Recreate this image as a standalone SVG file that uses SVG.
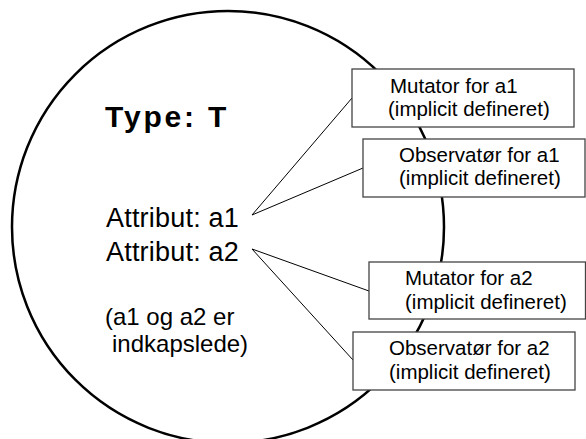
<svg xmlns="http://www.w3.org/2000/svg" width="586" height="439" viewBox="0 0 586 439">
  <style>
    .type { font-family: "Liberation Sans", Arial, sans-serif; font-weight: bold; font-size: 30px; letter-spacing: 2.8px; fill: #000; }
    .attr { font-family: "Liberation Sans", Arial, sans-serif; font-size: 27px; letter-spacing: 0.2px; fill: #000; }
    .note { font-family: "Liberation Sans", Arial, sans-serif; font-size: 24px; letter-spacing: 0; fill: #000; }
    .box rect { fill: #fff; stroke: #444; stroke-width: 1.3; }
    .box text { font-family: "Liberation Sans", Arial, sans-serif; font-size: 20.5px; letter-spacing: 0; fill: #000; }
    .link { stroke: #000; stroke-width: 1; fill: none; }
  </style>

  <!-- the type T, drawn as a large circle -->
  <g id="type-T">
    <circle cx="228" cy="227" r="216" fill="none" stroke="#000" stroke-width="2.5"/>
    <text class="type" x="105" y="127">Type: T</text>
    <text class="attr" x="106" y="227">Attribut: a1</text>
    <text class="attr" x="106" y="261">Attribut: a2</text>
    <text class="note" x="105" y="325">(a1 og a2 er</text>
    <text class="note" x="112" y="352">indkapslede)</text>
  </g>

  <!-- lines from each attribute to its operations -->
  <g id="connectors">
    <polyline class="link" points="352,98 252,215 363,168"/>
    <polyline class="link" points="369,291 252,249 353,360"/>
  </g>

  <g id="mutator-a1" class="box">
    <rect x="352" y="69" width="222" height="58"/>
    <text x="390" y="92.5">Mutator for a1</text>
    <text x="388" y="115.5">(implicit defineret)</text>
  </g>

  <g id="observator-a1" class="box">
    <rect x="363" y="139" width="222" height="58"/>
    <text x="399" y="161.5">Observatør for a1</text>
    <text x="399" y="185">(implicit defineret)</text>
  </g>

  <g id="mutator-a2" class="box">
    <rect x="369" y="262" width="216.5" height="57"/>
    <text x="405" y="285">Mutator for a2</text>
    <text x="405" y="308.5">(implicit defineret)</text>
  </g>

  <g id="observator-a2" class="box">
    <rect x="353" y="332" width="222" height="58"/>
    <text x="389" y="355">Observatør for a2</text>
    <text x="389" y="378.5">(implicit defineret)</text>
  </g>
</svg>
